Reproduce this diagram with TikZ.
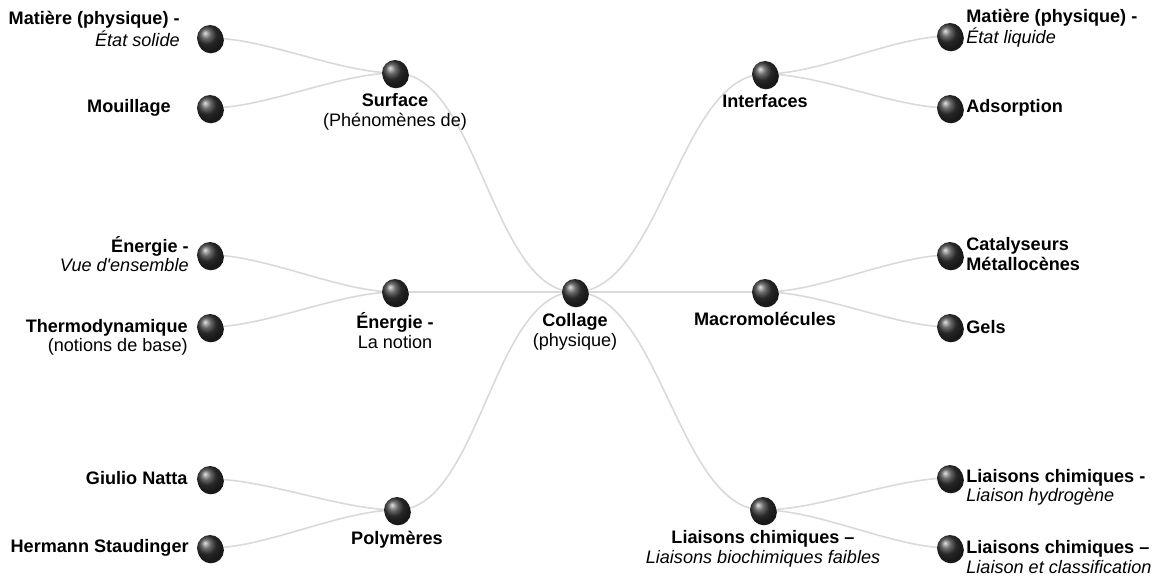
\documentclass[tikz,border=0pt]{standalone}
\usepackage{fontspec}
\setmainfont{Liberation Sans}
\usepackage{tikz}
\usetikzlibrary{positioning,backgrounds}
\tikzset{bille/.style = {circle, inner sep=0pt, minimum size=0.52cm, shading=ball, ball color=black!78,
    preaction={fill=black!90, transform canvas={shift={(0.5pt,-1.3pt)}}}}}
\tikzset{lien/.style = {draw=black!15, line width=0.9pt, looseness=0.75}}
\tikzset{txt/.style = {inner sep=0pt, font=\fontsize{10.3}{11}\selectfont}}

\begin{document}
\begin{tikzpicture}[x=0.02cm, y=-0.02cm]
    \useasboundingbox (0,0) rectangle (1152,577);

    % Centre
    \node[bille] (collage) at (575,292) {};
    \node[txt, align=center, below=4.5pt of collage] (collagetxt) {\textbf{Collage}\\(physique)};

    % Branches
    \node[bille] (surface) at (395,73) {};
    \node[bille] (energie) at (395,292) {};
    \node[bille] (polymeres) at (397,510) {};
    \node[bille] (interfaces) at (765,74) {};
    \node[bille] (macro) at (765,292) {};
    \node[bille] (liaisons) at (763,510) {};
    \node[txt, align=center, below=4pt of surface] (surfacetxt) {\textbf{Surface}\\(Phénomènes de)};
    \node[txt, align=center, below=4pt of energie] (energietxt) {\textbf{Énergie -}\\La notion};
    \node[txt, align=center, below=4pt of polymeres] (polymerestxt) {\textbf{Polymères}};
    \node[txt, align=center, below=4pt of interfaces] (interfacestxt) {\textbf{Interfaces}};
    \node[txt, align=center, below=4pt of macro] (macrotxt) {\textbf{Macromolécules}};
    \node[txt, align=center, below=4pt of liaisons] (liaisonstxt) {\textbf{Liaisons chimiques –}\\\textit{Liaisons biochimiques faibles}};

    % Leaves, left
    \node[bille] (solide) at (210,38) {};
    \node[bille] (mouillage) at (210,108) {};
    \node[bille] (vue) at (210,255) {};
    \node[bille] (thermo) at (210,327) {};
    \node[bille] (natta) at (210,479) {};
    \node[bille] (staudinger) at (210,548) {};
    \node[txt, align=right, anchor=east] (soldetxt) at (180,29) {\textbf{Matière (physique) -}\\\textit{État solide}};
    \node[txt, anchor=east] (mouillagetxt) at (171,108) {\textbf{Mouillage}};
    \node[txt, align=right, anchor=east] (vuetxt) at (189,254) {\textbf{Énergie -}\\\textit{Vue d\textquotesingle ensemble}};
    \node[txt, align=right, anchor=east] (thermotxt) at (188,337) {\textbf{Thermodynamique}\\(notions de base)};
    \node[txt, anchor=east] (nattatxt) at (188,478) {\textbf{Giulio Natta}};
    \node[txt, anchor=east] (staudingertxt) at (189,548) {\textbf{Hermann Staudinger}};

    % Leaves, right
    \node[bille] (liquide) at (950,36) {};
    \node[bille] (adsorption) at (950,108) {};
    \node[bille] (catalyseurs) at (950,255) {};
    \node[bille] (gels) at (950,327) {};
    \node[bille] (hydrogene) at (950,478) {};
    \node[bille] (classif) at (950,548) {};
    \node[txt, align=left, anchor=west] (liquidetxt) at (966,28) {\textbf{Matière (physique) -}\\\textit{État liquide}};
    \node[txt, anchor=west] (adsorptiontxt) at (966,108) {\textbf{Adsorption}};
    \node[txt, align=left, anchor=west] (catalyseurstxt) at (966,254) {\textbf{Catalyseurs}\\\textbf{Métallocènes}};
    \node[txt, anchor=west] (gelstxt) at (966,327) {\textbf{Gels}};
    \node[txt, align=left, anchor=west] (hydrogenetxt) at (966,487) {\textbf{Liaisons chimiques -}\\\textit{Liaison hydrogène}};
    \node[txt, align=left, anchor=west] (classiftxt) at (966,557) {\textbf{Liaisons chimiques –}\\\textit{Liaison et classification}};

    % Links
    \begin{scope}[on background layer]
        \draw[lien] (collage.center) to[out=180, in=0] (surface.center);
        \draw[lien] (collage.center) -- (energie.center);
        \draw[lien] (collage.center) to[out=180, in=0] (polymeres.center);
        \draw[lien] (collage.center) to[out=0, in=180] (interfaces.center);
        \draw[lien] (collage.center) -- (macro.center);
        \draw[lien] (collage.center) to[out=0, in=180] (liaisons.center);

        \draw[lien] (surface.center) to[out=180, in=0] (solide.center);
        \draw[lien] (surface.center) to[out=180, in=0] (mouillage.center);
        \draw[lien] (energie.center) to[out=180, in=0] (vue.center);
        \draw[lien] (energie.center) to[out=180, in=0] (thermo.center);
        \draw[lien] (polymeres.center) to[out=180, in=0] (natta.center);
        \draw[lien] (polymeres.center) to[out=180, in=0] (staudinger.center);

        \draw[lien] (interfaces.center) to[out=0, in=180] (liquide.center);
        \draw[lien] (interfaces.center) to[out=0, in=180] (adsorption.center);
        \draw[lien] (macro.center) to[out=0, in=180] (catalyseurs.center);
        \draw[lien] (macro.center) to[out=0, in=180] (gels.center);
        \draw[lien] (liaisons.center) to[out=0, in=180] (hydrogene.center);
        \draw[lien] (liaisons.center) to[out=0, in=180] (classif.center);
    \end{scope}
\end{tikzpicture}
\end{document}
